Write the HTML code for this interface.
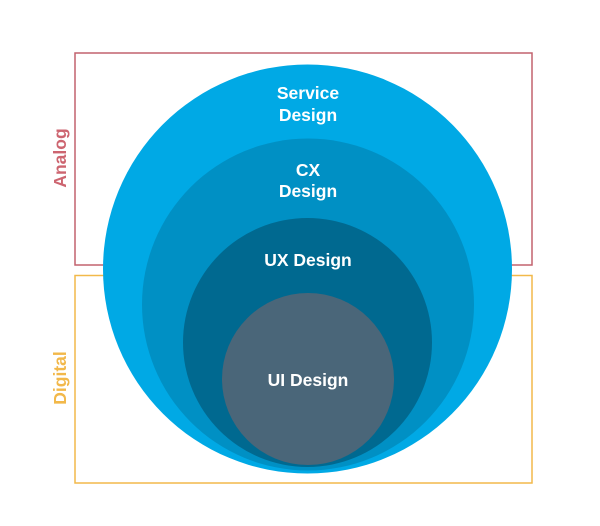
<!DOCTYPE html>
<html><head><meta charset="utf-8"><style>
html,body{margin:0;padding:0;background:#fff}
svg{display:block}
text{font-family:"Liberation Sans",sans-serif;font-weight:bold;font-size:17.5px}
</style></head><body>
<svg width="600" height="526" viewBox="0 0 600 526">
<rect x="75" y="53" width="457" height="212" fill="none" stroke="#c2626e" stroke-width="1.5"/>
<rect x="75" y="275.5" width="457" height="207.5" fill="none" stroke="#f2b94a" stroke-width="1.5"/>
<circle cx="307.5" cy="269" r="204.5" fill="#00a9e5"/>
<circle cx="308" cy="304.5" r="166" fill="#0090c4"/>
<circle cx="307.5" cy="342.5" r="124.5" fill="#006990"/>
<circle cx="308" cy="379" r="86" fill="#4a6679"/>
<g fill="#fff" text-anchor="middle">
<text x="308" y="99">Service</text>
<text x="308" y="121">Design</text>
<text x="308" y="176">CX</text>
<text x="308" y="197">Design</text>
<text x="308" y="266">UX Design</text>
<text x="308" y="386">UI Design</text>
</g>
<text transform="translate(66,158) rotate(-90)" text-anchor="middle" fill="#cd6570" font-size="18">Analog</text>
<text transform="translate(66,378) rotate(-90)" text-anchor="middle" fill="#f2b84a" font-size="18">Digital</text>
</svg>
</body></html>
